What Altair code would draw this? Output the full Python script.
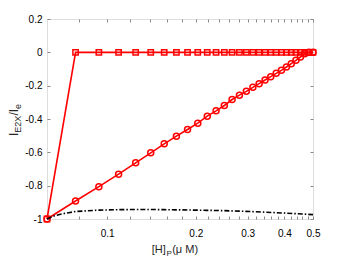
import altair as alt
import pandas as pd

# ---- data ----
x_grid = [0.0625, 0.078125, 0.09375, 0.109375, 0.125, 0.140625, 0.15625, 0.171875,
          0.1875, 0.203125, 0.21875, 0.234375, 0.25, 0.265625, 0.28125, 0.296875,
          0.3125, 0.328125, 0.34375, 0.359375, 0.375, 0.390625, 0.40625, 0.421875,
          0.4375, 0.453125, 0.46875, 0.484375, 0.5]
square_y = [-1, 0, 0, 0, 0, 0, 0, 0, 0, 0, 0, 0, 0, 0, 0, 0,
            0, 0, 0, 0, 0, 0, 0, 0, 0, 0, 0, 0, 0]
circle_y = [-1, -0.892, -0.806, -0.731, -0.663, -0.603, -0.549, -0.503,
            -0.463, -0.425, -0.383, -0.351, -0.319, -0.283, -0.257, -0.234,
            -0.210, -0.188, -0.166, -0.146, -0.126, -0.108, -0.088, -0.068,
            -0.048, -0.028, -0.008, 0, 0]
black_x = [0.0625, 0.066, 0.07, 0.074, 0.078125, 0.09375, 0.109375, 0.125, 0.140625,
           0.15625, 0.171875, 0.1875, 0.203125, 0.21875, 0.234375, 0.25, 0.28125,
           0.3125, 0.34375, 0.375, 0.40625, 0.4375, 0.46875, 0.5]
black_y = [-1, -0.982, -0.970, -0.962, -0.955, -0.947, -0.944, -0.943, -0.943,
           -0.944, -0.945, -0.946, -0.947, -0.948, -0.949, -0.950, -0.953,
           -0.956, -0.959, -0.962, -0.965, -0.968, -0.971, -0.974]

x_tick_values = [0.08, 0.1, 0.12, 0.14, 0.16, 0.18, 0.2, 0.22, 0.24, 0.26, 0.28, 0.3,
                 0.32, 0.34, 0.36, 0.38, 0.4, 0.42, 0.44, 0.46, 0.48, 0.5]
x_label_values = [0.1, 0.2, 0.3, 0.4, 0.5]
y_tick_values = [-1, -0.8, -0.6, -0.4, -0.2, 0, 0.2]

W, H = 266, 200
RED = "#ff0000"
TXT = "#262626"
AX = "#8c8c8c"
FONT = "Liberation Sans"

df_main = pd.DataFrame({"x": x_grid, "sq": square_y, "ci": circle_y})
df_blk = pd.DataFrame({"x": black_x, "y": black_y})

xs = alt.Scale(type="log", domain=[0.0625, 0.5], nice=False)
ys = alt.Scale(domain=[-1, 0.2], nice=False, zero=False)

ax_x_lab = alt.Axis(orient="bottom", values=x_label_values, ticks=False, domain=False,
                    grid=False, title=None, labelPadding=9, labelFlush=False,
                    labelExpr="'' + datum.value")
ax_y_lab = alt.Axis(orient="left", values=y_tick_values, ticks=False, domain=False,
                    grid=False, title=None, labelPadding=5, labelFlush=False,
                    labelExpr="'' + datum.value")
ax_x_bot_ticks = alt.Axis(orient="top", offset=-H, values=x_tick_values, labels=False,
                          domain=False, grid=False, title=None, tickSize=3)
ax_y_left_ticks = alt.Axis(orient="right", offset=-W, values=y_tick_values, labels=False,
                           domain=False, grid=False, title=None, tickSize=3)
ax_x_top_ticks = alt.Axis(orient="bottom", offset=-H, values=x_tick_values, labels=False,
                          domain=False, grid=False, title=None, tickSize=3)
ax_y_right_ticks = alt.Axis(orient="left", offset=-W, values=y_tick_values, labels=False,
                            domain=False, grid=False, title=None, tickSize=3)

sq_line = alt.Chart(df_main).mark_line(
    color=RED, strokeWidth=1.6,
    point=alt.OverlayMarkDef(shape="square", filled=False, size=28, strokeWidth=1.5,
                             color=RED, opacity=1),
).encode(
    x=alt.X("x:Q", scale=xs, axis=ax_x_lab),
    y=alt.Y("sq:Q", scale=ys, axis=ax_y_lab),
)

ci_line = alt.Chart(df_main).mark_line(
    color=RED, strokeWidth=1.6,
    point=alt.OverlayMarkDef(shape="circle", filled=False, size=36, strokeWidth=1.5,
                             color=RED, opacity=1),
).encode(
    x=alt.X("x:Q", scale=xs, axis=ax_x_bot_ticks),
    y=alt.Y("ci:Q", scale=ys, axis=ax_y_left_ticks),
)

blk_line = alt.Chart(df_blk).mark_line(
    color="black", strokeWidth=1.6, strokeDash=[5, 2, 1.5, 2],
).encode(
    x=alt.X("x:Q", scale=xs, axis=ax_x_top_ticks),
    y=alt.Y("y:Q", scale=ys, axis=ax_y_right_ticks),
)

one = alt.Data(values=[{"a": 1}])

def txt(text, x, y, size, angle=0):
    return alt.Chart(one).mark_text(
        text=text, font=FONT, fontSize=size, color=TXT, align="left",
        baseline="alphabetic", angle=angle,
    ).encode(x=alt.value(x), y=alt.value(y))

xl_base = 234
xlab = [
    txt("[H]", 104.7, xl_base, 11),
    txt("P", 119.5, xl_base + 3, 8),
    txt("(\u03bc M)", 125.2, xl_base, 11),
]
yb = -29
ylab = [
    txt("I", yb, 117, 12, 270),
    txt("E2X", yb + 3, 113.7, 9, 270),
    txt("/", yb, 96.5, 12, 270),
    txt("I", yb, 93.2, 12, 270),
    txt("e", yb + 3, 89.9, 9, 270),
]

chart = alt.layer(sq_line, ci_line, blk_line, *xlab, *ylab).resolve_axis(
    x="independent", y="independent"
).properties(
    width=W, height=H,
    padding={"left": 39, "top": 11, "right": 25, "bottom": 45},
    autosize=alt.AutoSizeParams(type="none"),
).configure_view(
    stroke=AX, strokeWidth=1,
).configure_axis(
    labelFont=FONT, labelFontSize=11, labelColor=TXT,
    tickColor=AX, tickWidth=1, domainColor=AX,
).configure(background="white")

chart.save("out.html", embed_options={"renderer": "svg", "actions": False})
